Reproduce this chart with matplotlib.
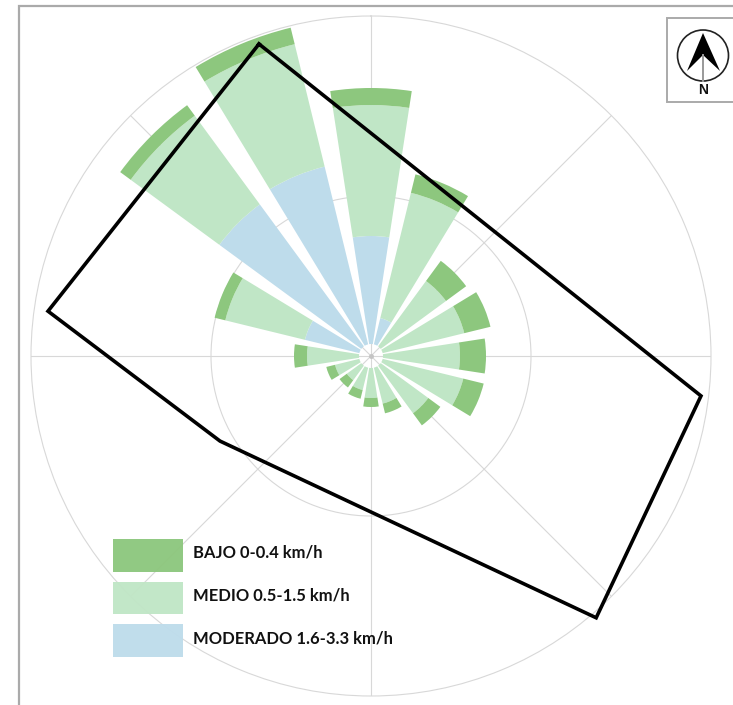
import numpy as np
import matplotlib
matplotlib.use('Agg')
import matplotlib.pyplot as plt
from matplotlib.patches import Rectangle, Circle, Polygon

W, H = 733, 705

# Wind rose data, clockwise from north (radii in chart units)
directions = ['N', 'NNE', 'NE', 'ENE', 'E', 'ESE', 'SE', 'SSE',
              'S', 'SSW', 'SW', 'WSW', 'W', 'WNW', 'NW', 'NNW']
bearings = [0, 22.5, 45, 67.5, 90, 112.5, 135, 157.5,
            180, 202.5, 225, 247.5, 270, 292.5, 315, 337.5]
moderado_r = [120, 39, 12, 12, 12, 12, 12, 12, 12, 12, 12, 12, 12, 68, 188, 195]
medio_r = [251, 168, 93, 96, 89, 95, 71, 49, 42, 35, 30, 37, 64, 150, 298, 321]
bajo_r = [268, 187, 118, 123, 115, 116, 86, 59, 51, 44, 39, 46, 77, 161, 311, 338]

# Site outline, as bearing (deg) and radius
site_bearing = [340.25, 96.9, 139.3, 240.6, 277.9, 340.25]
site_r = [331.5, 332.4, 345.3, 173.3, 326.1, 331.5]

legend_labels = ['BAJO 0-0.4 km/h', 'MEDIO 0.5-1.5 km/h', 'MODERADO 1.6-3.3 km/h']
c_bajo, c_medio, c_mod = '#8DC77E', '#C0E6C6', '#BEDCEB'
grid_c = '#d8d8d8'

hub = 12
theta = np.radians(bearings)
width = np.radians(17.5)

fig = plt.figure(figsize=(W / 100, H / 100), dpi=100)

# Polar axes centred on (371, 356) px with radius 340 px
ax = fig.add_axes([31 / W, (H - 696) / H, 680 / W, 680 / H], projection='polar')
ax.set_theta_zero_location('N')
ax.set_theta_direction(-1)
ax.set_rlim(0, 340)
ax.set_rgrids([160], labels=[''])
ax.set_thetagrids(np.arange(0, 360, 45), labels=[''] * 8)
ax.grid(True, color=grid_c, lw=0.8)
ax.set_axisbelow(True)
ax.spines['polar'].set_color(grid_c)
ax.spines['polar'].set_linewidth(0.8)
ax.patch.set_alpha(0)

mod = np.array(moderado_r)
med = np.array(medio_r)
baj = np.array(bajo_r)
ax.bar(theta, mod - hub, width=width, bottom=hub, color=c_mod, lw=0)
ax.bar(theta, med - mod, width=width, bottom=mod, color=c_medio, lw=0)
ax.bar(theta, baj - med, width=width, bottom=med, color=c_bajo, lw=0)
ax.plot([0], [0], 'o', ms=2.5, color='#c4c4c4')

ax.plot(np.radians(site_bearing), site_r, color='black', lw=2.6,
        solid_joinstyle='miter', clip_on=False, zorder=6)

# Overlay in pixel coordinates for frame, legend and north arrow
ov = fig.add_axes([0, 0, 1, 1])
ov.set_xlim(0, W)
ov.set_ylim(H, 0)
ov.axis('off')
ov.patch.set_alpha(0)

ov.plot([19, 19, W], [H, 6, 6], color='#aaaaaa', lw=1.6, solid_joinstyle='miter')

# Legend
for y0, y1, c, lab in zip([539, 582, 624], [572, 614, 657],
                          [c_bajo, c_medio, c_mod], legend_labels):
    ov.add_patch(Rectangle((113, y0), 70, y1 - y0, fc=c, ec='none', alpha=0.96))
    ov.text(193, (y0 + y1) / 2 - 2.5, lab, family='Lato', weight='bold', fontsize=11.9,
            color='#111111', va='center', ha='left')

# North arrow
ov.add_patch(Rectangle((667, 18), 70, 84, fc='white', ec='#aaaaaa', lw=1.4, clip_on=True))
ov.add_patch(Circle((703, 55.5), 25.5, fc='white', ec='#222222', lw=1.2))
ov.plot([703, 703], [55, 81], color='#999999', lw=1.4)
ov.add_patch(Polygon([(703, 33), (720, 71), (703, 55), (687, 71)], fc='black', ec='none'))
ov.text(703, 90.5, 'N', family='Liberation Sans', weight='bold', fontsize=10,
        ha='center', va='center', color='#111111')

fig.savefig('out.png', dpi=100)
